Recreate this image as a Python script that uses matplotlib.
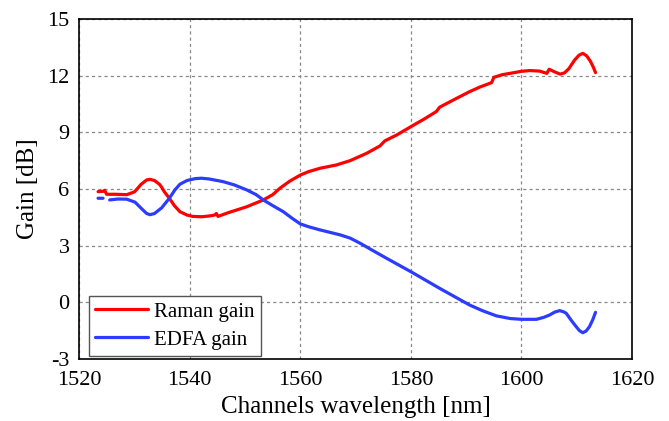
import numpy as np
import matplotlib
matplotlib.use("Agg")
import matplotlib.pyplot as plt

plt.rcParams['font.family'] = ['Liberation Serif', 'DejaVu Serif']
plt.rcParams['axes.unicode_minus'] = False

# Raman gain vs wavelength
raman_wl = [1523.4, 1524.3, 1524.6, 1524.95, 1526.5, 1528.6, 1530.0, 1531.2, 1532.2, 1532.8,
            1533.6, 1534.5, 1534.9, 1535.4, 1536.3, 1537.2, 1538.2, 1539.5, 1540.5, 1542.1,
            1543.5, 1544.5, 1544.8, 1545.1, 1547.0, 1550.3, 1553.3, 1555.0, 1556.3, 1558.0,
            1560.0, 1561.5, 1563.6, 1566.5, 1569.0, 1572.0, 1574.4, 1575.3, 1577.5, 1580.0,
            1582.5, 1584.6, 1585.2, 1588.0, 1590.6, 1592.5, 1594.6, 1595.0, 1596.5, 1597.9,
            1600.0, 1601.5, 1603.3, 1604.6, 1605.0, 1606.0, 1607.0, 1607.8, 1608.6, 1609.6,
            1610.4, 1611.1, 1611.8, 1612.5, 1613.0, 1613.4]
raman_gain = [5.86, 5.88, 5.93, 5.72, 5.72, 5.70, 5.85, 6.25, 6.48, 6.51,
              6.45, 6.25, 6.10, 5.85, 5.51, 5.12, 4.80, 4.62, 4.55, 4.53,
              4.57, 4.62, 4.70, 4.55, 4.75, 5.06, 5.42, 5.70, 6.04, 6.40,
              6.74, 6.92, 7.10, 7.27, 7.50, 7.89, 8.28, 8.55, 8.87, 9.30,
              9.72, 10.10, 10.33, 10.76, 11.15, 11.40, 11.63, 11.91, 12.05, 12.12,
              12.23, 12.27, 12.24, 12.12, 12.34, 12.20, 12.08, 12.15, 12.38, 12.82,
              13.08, 13.18, 13.05, 12.75, 12.45, 12.16]

# EDFA gain vs wavelength (nan = missing sample)
edfa_wl = [1523.4, 1524.3, 1524.7, 1525.5, 1527.0, 1528.6, 1530.1, 1531.3, 1532.2, 1532.8,
           1533.6, 1534.9, 1536.3, 1537.3, 1538.2, 1539.5, 1541.0, 1542.1, 1543.5, 1546.0,
           1548.0, 1550.3, 1552.0, 1553.3, 1555.0, 1556.9, 1558.5, 1560.0, 1561.5, 1563.6,
           1567.2, 1569.0, 1570.8, 1573.0, 1575.6, 1580.0, 1585.2, 1590.6, 1593.0, 1595.5,
           1598.0, 1600.0, 1602.7, 1604.0, 1605.1, 1606.0, 1606.9, 1607.6, 1608.1, 1609.0,
           1609.9, 1610.5, 1611.1, 1611.7, 1612.3, 1612.9, 1613.4]
edfa_gain = [5.51, 5.51, np.nan, 5.42, 5.47, 5.46, 5.30, 4.95, 4.70, 4.64,
             4.70, 5.00, 5.51, 5.95, 6.25, 6.45, 6.55, 6.57, 6.53, 6.39,
             6.22, 5.95, 5.70, 5.42, 5.12, 4.80, 4.45, 4.15, 4.00, 3.83,
             3.57, 3.40, 3.13, 2.76, 2.33, 1.62, 0.74, -0.14, -0.45, -0.72,
             -0.86, -0.90, -0.90, -0.80, -0.67, -0.52, -0.44, -0.50, -0.58, -0.95,
             -1.29, -1.50, -1.61, -1.52, -1.29, -0.92, -0.53]

x_ticks = [1520, 1540, 1560, 1580, 1600, 1620]
y_ticks = [-3, 0, 3, 6, 9, 12, 15]

fig = plt.figure(figsize=(6.69, 4.21), dpi=100)
ax = fig.add_axes([0.1185, 0.1473, 0.8262, 0.8076])

ax.plot(raman_wl, raman_gain, color='#ff0000', lw=2.3, label='Raman gain',
        solid_joinstyle='round', solid_capstyle='round')
ax.plot(edfa_wl, edfa_gain, color='#2b3cff', lw=2.3, label='EDFA gain',
        solid_joinstyle='round', solid_capstyle='round')

ax.set_xlim(1520, 1620)
ax.set_ylim(-3, 15)
ax.set_xticks(x_ticks)
ax.set_yticks(y_ticks)
ax.tick_params(length=0, labelsize=16)
ax.tick_params(axis='x', pad=9)
ax.tick_params(axis='y', pad=7)
ax.grid(True, color='#888888', linestyle=(0, (2.5, 2.5)), linewidth=0.9)
for s in ax.spines.values():
    s.set_linewidth(1.2)

ax.set_xlabel('Channels wavelength [nm]', fontsize=18, labelpad=4)
ax.set_ylabel('Gain [dB]', fontsize=18, labelpad=6)

leg = ax.legend(loc='lower left', bbox_to_anchor=(0.018, 0.009), borderaxespad=0,
                fontsize=15, fancybox=False, framealpha=1, edgecolor='#555555',
                handlelength=2.5, handletextpad=0.3, labelspacing=0.4, borderpad=0.3)
leg.get_frame().set_linewidth(1.0)

fig.savefig('out.png', dpi=100)
